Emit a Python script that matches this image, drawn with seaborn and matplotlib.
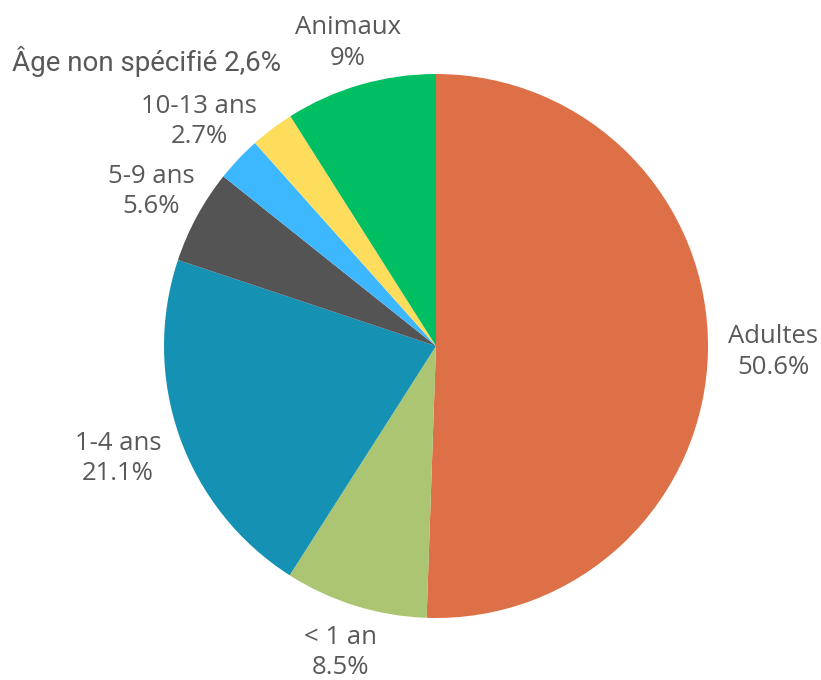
import seaborn as sns
from matplotlib import pyplot as plt

categories = ['Adultes', '< 1 an', '1-4 ans', '5-9 ans', '10-13 ans',
              'Âge non spécifié', 'Animaux']
values = [50.6, 8.5, 21.1, 5.6, 2.7, 2.6, 9.0]
pct_labels = ['50.6%', '8.5%', '21.1%', '5.6%', '2.7%', '2,6%', '9%']
colors = ['#DD7047', '#ABC572', '#1591B3', '#545454', '#3DB8FF',
          '#FFDD5C', '#00BF63']
# how far out each label sits (in pie radii)
label_dist = [1.24, 1.18, 1.24, 1.19, 1.2, 1.2, 1.16]

sns.set_theme(style='white')
plt.rcParams['font.family'] = ['Open Sans', 'DejaVu Sans']

fig = plt.figure(figsize=(8.21, 6.8), dpi=100)
ax = fig.add_axes([164 / 821, 62 / 680, 544 / 821, 544 / 680])

labels = [f'{c}\n{p}' for c, p in zip(categories, pct_labels)]
labels[5] = f'{categories[5]} {pct_labels[5]}'

wedges, texts = ax.pie(values, labels=labels, colors=colors, startangle=90,
                       counterclock=False, labeldistance=1.0,
                       wedgeprops=dict(linewidth=0),
                       textprops=dict(fontsize=18.5, color='#595959'))
for t, d in zip(texts, label_dist):
    x, y = t.get_position()
    t.set_position((x * d, y * d))
    t.set_ha('center')
    t.set_va('center')
    t.set_linespacing(1.3)
# the small "age unknown" label sits on one line, pushed up-left
texts[5].set_position((-1.065, 1.045))
texts[5].set_family(['Roboto', 'DejaVu Sans'])
texts[5].set_fontsize(20)

ax.set_xlim(-1, 1)
ax.set_ylim(-1, 1)
ax.set_aspect('equal')
ax.axis('off')

fig.savefig('out.png', dpi=100)
